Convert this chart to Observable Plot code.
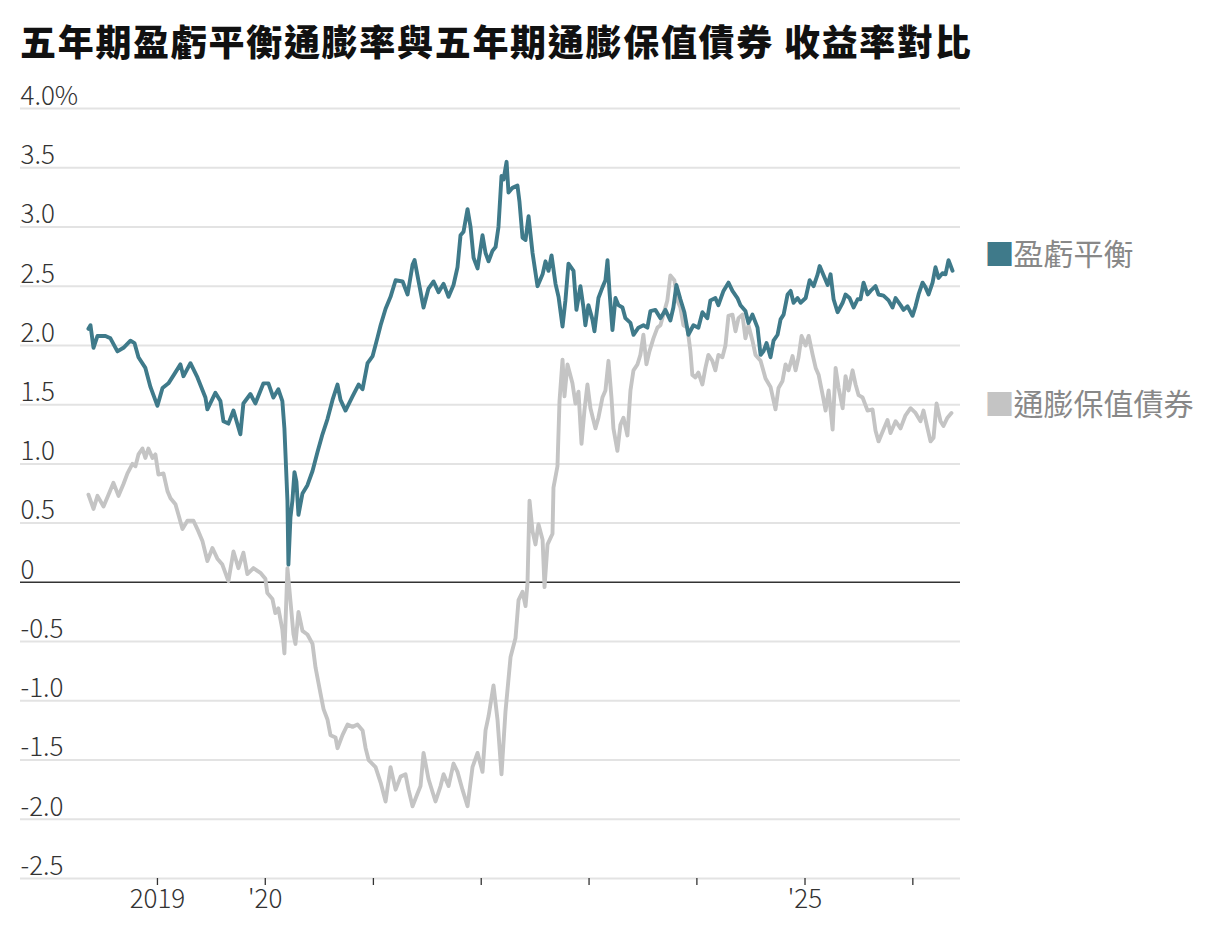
<!DOCTYPE html>
<html>
<head>
<meta charset="utf-8">
<script src="https://cdn.jsdelivr.net/npm/d3@7"></script>
<script src="https://cdn.jsdelivr.net/npm/@observablehq/plot@0.6"></script>
<style>
  html, body { margin: 0; padding: 0; background: #fff; }
  #wrap { position: relative; width: 1211px; height: 945px; }
  #title { position: absolute; left: 20px; top: 14px; font-family: "Noto Sans CJK TC", sans-serif; font-weight: 900; font-size: 36px; color: #111; white-space: nowrap; letter-spacing: 1.7px; }
  #chart { position: absolute; left: 0; top: 0; }
</style>
</head>
<body>
<div id="wrap">
  <div id="chart"></div>
  <div id="title">五年期盈虧平衡通膨率與五年期通膨保值債券 收益率對比</div>
</div>
<script>
// ---- data (decimal years, percent) ----
const breakevenDates = [2018.360,2018.379,2018.407,2018.444,2018.518,2018.564,2018.629,2018.685,2018.750,2018.787,2018.824,2018.888,2018.935,2019.000,2019.047,2019.102,2019.158,2019.213,2019.241,2019.306,2019.371,2019.445,2019.463,2019.537,2019.584,2019.612,2019.658,2019.705,2019.769,2019.797,2019.862,2019.908,2019.983,2020.029,2020.075,2020.121,2020.158,2020.177,2020.205,2020.214,2020.233,2020.251,2020.270,2020.288,2020.307,2020.344,2020.390,2020.437,2020.483,2020.529,2020.576,2020.622,2020.668,2020.696,2020.742,2020.807,2020.863,2020.900,2020.946,2020.993,2021.039,2021.067,2021.113,2021.159,2021.206,2021.271,2021.317,2021.363,2021.382,2021.419,2021.465,2021.511,2021.558,2021.604,2021.651,2021.697,2021.743,2021.780,2021.808,2021.836,2021.873,2021.901,2021.929,2021.966,2022.012,2022.040,2022.068,2022.105,2022.133,2022.160,2022.188,2022.207,2022.235,2022.253,2022.290,2022.336,2022.355,2022.383,2022.411,2022.439,2022.476,2022.522,2022.569,2022.596,2022.624,2022.652,2022.689,2022.717,2022.754,2022.781,2022.809,2022.856,2022.883,2022.920,2022.948,2022.966,2022.994,2023.031,2023.050,2023.087,2023.124,2023.152,2023.171,2023.189,2023.217,2023.245,2023.273,2023.310,2023.337,2023.384,2023.412,2023.458,2023.504,2023.541,2023.569,2023.615,2023.662,2023.708,2023.754,2023.782,2023.810,2023.847,2023.884,2023.921,2023.968,2024.014,2024.051,2024.097,2024.125,2024.171,2024.199,2024.246,2024.292,2024.329,2024.375,2024.403,2024.449,2024.477,2024.514,2024.561,2024.589,2024.616,2024.644,2024.681,2024.709,2024.746,2024.774,2024.802,2024.839,2024.867,2024.894,2024.931,2024.959,2025.006,2025.043,2025.080,2025.117,2025.136,2025.173,2025.210,2025.237,2025.265,2025.302,2025.349,2025.376,2025.413,2025.451,2025.488,2025.515,2025.543,2025.580,2025.608,2025.654,2025.682,2025.728,2025.775,2025.812,2025.840,2025.886,2025.914,2025.951,2025.997,2026.025,2026.053,2026.090,2026.118,2026.146,2026.183,2026.210,2026.238,2026.275,2026.303,2026.331,2026.368];
const breakevenValues = [2.14,2.17,1.98,2.08,2.08,2.06,1.95,1.98,2.04,2.02,1.90,1.81,1.65,1.49,1.64,1.68,1.76,1.84,1.74,1.85,1.73,1.56,1.46,1.60,1.53,1.36,1.34,1.45,1.25,1.51,1.59,1.51,1.68,1.68,1.56,1.63,1.53,1.30,0.69,0.15,0.55,0.69,0.93,0.85,0.57,0.75,0.82,0.94,1.10,1.25,1.38,1.54,1.67,1.54,1.45,1.57,1.67,1.63,1.85,1.91,2.07,2.17,2.31,2.41,2.55,2.54,2.43,2.68,2.72,2.54,2.32,2.48,2.54,2.45,2.52,2.41,2.51,2.66,2.93,2.96,3.15,3.00,2.74,2.65,2.93,2.78,2.71,2.80,2.83,3.00,3.43,3.40,3.55,3.29,3.33,3.35,3.21,2.91,2.89,3.09,2.78,2.50,2.60,2.71,2.63,2.76,2.52,2.41,2.16,2.38,2.69,2.63,2.30,2.50,2.32,2.17,2.34,2.22,2.12,2.40,2.49,2.55,2.72,2.46,2.13,2.40,2.34,2.32,2.23,2.19,2.09,2.15,2.17,2.15,2.29,2.30,2.23,2.30,2.21,2.32,2.51,2.39,2.28,2.09,2.17,2.15,2.28,2.23,2.38,2.40,2.34,2.46,2.53,2.46,2.40,2.34,2.29,2.19,2.26,2.15,1.92,1.95,2.02,1.90,2.04,2.09,2.22,2.26,2.43,2.46,2.36,2.40,2.36,2.40,2.55,2.50,2.60,2.67,2.59,2.51,2.60,2.39,2.28,2.36,2.43,2.40,2.32,2.39,2.39,2.53,2.43,2.46,2.50,2.43,2.42,2.38,2.32,2.40,2.34,2.30,2.33,2.25,2.33,2.43,2.53,2.49,2.43,2.53,2.66,2.57,2.61,2.60,2.72,2.63];

const tipsDates = [2018.360,2018.407,2018.444,2018.500,2018.546,2018.592,2018.639,2018.685,2018.722,2018.768,2018.796,2018.824,2018.861,2018.888,2018.916,2018.954,2018.981,2019.009,2019.056,2019.093,2019.121,2019.167,2019.195,2019.232,2019.278,2019.334,2019.380,2019.417,2019.463,2019.510,2019.556,2019.602,2019.658,2019.705,2019.751,2019.797,2019.834,2019.890,2019.955,2020.001,2020.019,2020.066,2020.093,2020.121,2020.158,2020.177,2020.205,2020.233,2020.261,2020.279,2020.307,2020.344,2020.390,2020.437,2020.465,2020.511,2020.539,2020.576,2020.603,2020.650,2020.668,2020.714,2020.761,2020.807,2020.853,2020.900,2020.928,2020.956,2021.020,2021.067,2021.113,2021.159,2021.206,2021.252,2021.298,2021.326,2021.363,2021.410,2021.437,2021.465,2021.511,2021.576,2021.623,2021.651,2021.697,2021.743,2021.780,2021.826,2021.873,2021.919,2021.966,2022.012,2022.040,2022.068,2022.114,2022.151,2022.188,2022.225,2022.272,2022.318,2022.346,2022.383,2022.411,2022.429,2022.448,2022.476,2022.503,2022.531,2022.569,2022.587,2022.615,2022.661,2022.670,2022.707,2022.726,2022.754,2022.772,2022.800,2022.846,2022.874,2022.902,2022.930,2022.957,2022.985,2023.013,2023.059,2023.087,2023.124,2023.152,2023.180,2023.208,2023.226,2023.263,2023.291,2023.319,2023.356,2023.384,2023.412,2023.449,2023.476,2023.504,2023.532,2023.560,2023.597,2023.634,2023.662,2023.689,2023.726,2023.754,2023.791,2023.819,2023.847,2023.875,2023.912,2023.940,2023.958,2023.986,2024.014,2024.051,2024.079,2024.106,2024.143,2024.171,2024.199,2024.236,2024.264,2024.292,2024.329,2024.357,2024.385,2024.421,2024.449,2024.477,2024.514,2024.542,2024.589,2024.635,2024.681,2024.727,2024.755,2024.792,2024.820,2024.848,2024.885,2024.913,2024.940,2024.968,2025.006,2025.034,2025.071,2025.099,2025.127,2025.164,2025.191,2025.219,2025.256,2025.284,2025.312,2025.349,2025.376,2025.404,2025.441,2025.469,2025.497,2025.534,2025.580,2025.626,2025.654,2025.682,2025.728,2025.765,2025.793,2025.840,2025.886,2025.932,2025.979,2026.025,2026.071,2026.099,2026.136,2026.164,2026.192,2026.220,2026.257,2026.284,2026.321,2026.358];
const tipsValues = [0.74,0.62,0.73,0.64,0.74,0.84,0.73,0.83,0.92,1.00,0.98,1.08,1.13,1.05,1.13,1.05,1.08,0.91,0.92,0.77,0.71,0.66,0.57,0.45,0.52,0.52,0.43,0.35,0.18,0.29,0.20,0.15,0.01,0.26,0.12,0.25,0.07,0.12,0.08,0.03,-0.09,-0.14,-0.26,-0.22,-0.40,-0.60,0.12,-0.16,-0.44,-0.52,-0.25,-0.41,-0.44,-0.52,-0.72,-0.94,-1.07,-1.16,-1.29,-1.31,-1.40,-1.29,-1.20,-1.22,-1.20,-1.25,-1.40,-1.50,-1.56,-1.69,-1.85,-1.56,-1.75,-1.64,-1.62,-1.75,-1.89,-1.78,-1.72,-1.44,-1.66,-1.85,-1.72,-1.62,-1.72,-1.53,-1.60,-1.75,-1.89,-1.56,-1.44,-1.60,-1.25,-1.13,-0.87,-1.16,-1.62,-1.09,-0.63,-0.47,-0.15,-0.08,-0.20,-0.01,0.69,0.43,0.32,0.49,0.36,-0.04,0.32,0.41,0.80,0.98,1.53,1.88,1.57,1.84,1.68,1.51,1.61,1.17,1.45,1.67,1.47,1.30,1.39,1.56,1.62,1.87,1.56,1.30,1.11,1.33,1.39,1.24,1.62,1.79,1.84,1.92,2.09,1.84,1.95,2.06,2.15,2.17,2.26,2.38,2.59,2.55,2.38,2.32,2.17,2.15,1.95,1.75,1.73,1.77,1.67,1.81,1.92,1.87,1.79,1.92,1.90,2.00,2.25,2.26,2.12,2.23,2.26,2.06,2.17,2.04,1.92,1.87,1.72,1.65,1.46,1.64,1.70,1.84,1.79,1.91,1.79,1.90,2.08,2.00,2.08,1.92,1.81,1.75,1.58,1.45,1.62,1.29,1.81,1.64,1.47,1.74,1.62,1.79,1.67,1.58,1.56,1.45,1.46,1.28,1.19,1.29,1.37,1.26,1.36,1.30,1.41,1.47,1.43,1.36,1.45,1.30,1.19,1.22,1.51,1.36,1.32,1.39,1.43];

const seriesNames = ["盈虧平衡", "通膨保值債券"];
const seriesColors = ["#3f7a8a", "#c4c4c4"];

const yTicks = [4.0, 3.5, 3.0, 2.5, 2.0, 1.5, 1.0, 0.5, 0, -0.5, -1.0, -1.5, -2.0, -2.5];
const yTickLabels = ["4.0%", "3.5", "3.0", "2.5", "2.0", "1.5", "1.0", "0.5", "0", "-0.5", "-1.0", "-1.5", "-2.0", "-2.5"];
const xTickYears = [2019, 2020, 2021, 2022, 2023, 2024, 2025, 2026];
const xTickLabels = ["2019", "'20", "", "", "", "", "'25", ""];
const xDomainYears = [2017.730, 2026.442];

// ---- helpers ----
function toDate(t) {
  const y = Math.floor(t);
  const a = Date.UTC(y, 0, 1), b = Date.UTC(y + 1, 0, 1);
  return new Date(a + (t - y) * (b - a));
}
const breakeven = breakevenDates.map((d, i) => ({date: toDate(d), value: breakevenValues[i]}));
const tips = tipsDates.map((d, i) => ({date: toDate(d), value: tipsValues[i]}));
const yTickData = yTicks.map((v, i) => ({value: v, label: yTickLabels[i]}));
const xTickData = xTickYears.map((y, i) => ({date: new Date(Date.UTC(y, 0, 1)), label: xTickLabels[i]}));
const lastBreakeven = [breakeven[breakeven.length - 1]];
const lastTips = [tips[tips.length - 1]];

const font = "'Noto Sans CJK TC', 'Noto Sans', sans-serif";
const tickFont = 26;

const chart = Plot.plot({
  width: 1211,
  height: 945,
  marginLeft: 20,
  marginRight: 251,
  marginTop: 108,
  marginBottom: 67,
  style: {fontFamily: font, background: "transparent", overflow: "visible"},
  x: {type: "utc", domain: xDomainYears.map(toDate), axis: null},
  y: {type: "linear", domain: [-2.5, 4.0], axis: null},
  marks: [
    Plot.ruleY(yTickData.filter(d => d.value !== 0), {y: "value", stroke: "#e3e3e3", strokeWidth: 2}),
    Plot.text(yTickData, {y: "value", text: "label", frameAnchor: "left", textAnchor: "start", dx: 0, dy: -12, fontSize: tickFont, fontWeight: 300, fill: "#333"}),
    Plot.ruleX(xTickData, {x: "date", y1: -2.5, y2: -2.5, insetBottom: -7, stroke: "#333", strokeWidth: 1.3}),
    Plot.text(xTickData, {x: "date", text: "label", frameAnchor: "bottom", dy: 29, fontSize: tickFont, fontWeight: 300, fill: "#333"}),
    Plot.ruleY([0], {stroke: "#333", strokeWidth: 1.5}),
    Plot.line(tips, {x: "date", y: "value", stroke: seriesColors[1], strokeWidth: 3.9, strokeLinejoin: "round"}),
    Plot.line(breakeven, {x: "date", y: "value", stroke: seriesColors[0], strokeWidth: 3.9, strokeLinejoin: "round"}),
    Plot.text(lastBreakeven, {x: "date", y: "value", text: () => "■", dx: 32, dy: -15, fill: seriesColors[0], fontSize: 30, textAnchor: "start"}),
    Plot.text(lastBreakeven, {x: "date", y: "value", text: () => seriesNames[0], dx: 61, dy: -15, fill: "#888", fontSize: 30, textAnchor: "start"}),
    Plot.text(lastTips, {x: "date", y: "value", text: () => "■", dx: 33, dy: -8, fill: seriesColors[1], fontSize: 30, textAnchor: "start"}),
    Plot.text(lastTips, {x: "date", y: "value", text: () => seriesNames[1], dx: 62, dy: -8, fill: "#888", fontSize: 30, textAnchor: "start"})
  ]
});
document.getElementById("chart").appendChild(chart);
</script>
</body>
</html>
